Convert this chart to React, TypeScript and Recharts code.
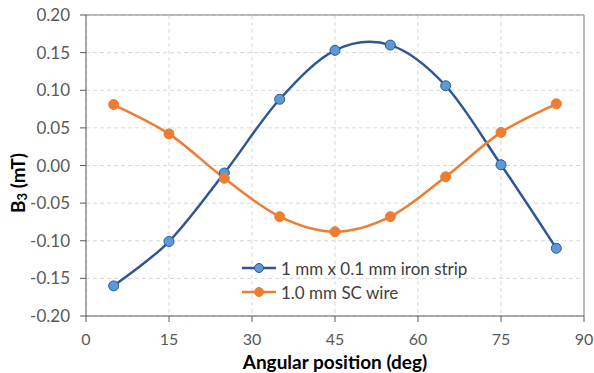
import React from "react";
import {
  CartesianGrid,
  Line,
  LineChart,
  ReferenceLine,
  XAxis,
  YAxis,
} from "recharts";

const angles = [5, 15, 25, 35, 45, 55, 65, 75, 85];
const ironStrip = [-0.16, -0.101, -0.01, 0.088, 0.153, 0.16, 0.106, 0.001, -0.11];
const scWire = [0.081, 0.042, -0.017, -0.068, -0.088, -0.068, -0.015, 0.044, 0.082];
const xTicks = [0, 15, 30, 45, 60, 75, 90];
const yTicks = [-0.2, -0.15, -0.1, -0.05, 0, 0.05, 0.1, 0.15, 0.2];
const seriesNames = ["1 mm x 0.1 mm iron strip", "1.0 mm SC wire"];

const data = angles.map((a, i) => ({ angle: a, iron: ironStrip[i], sc: scWire[i] }));

const FONT = "Lato, 'Open Sans', sans-serif";
const AXIS = "#595959";
const BLUE = "#2F5597";
const BLUE_FILL = "#5B9BD5";
const ORANGE = "#ED7D31";

// Excel-style smoothed line: cubic Bezier through every point (Catmull-Rom, 1/6 tangents).
function excelSmooth(context: any) {
  let pts: [number, number][] = [];
  return {
    areaStart() {},
    areaEnd() {},
    lineStart() {
      pts = [];
    },
    point(x: number, y: number) {
      pts.push([+x, +y]);
    },
    lineEnd() {
      if (!pts.length) return;
      context.moveTo(pts[0][0], pts[0][1]);
      for (let i = 0; i < pts.length - 1; i++) {
        const p0 = pts[i - 1] ?? pts[i];
        const p1 = pts[i];
        const p2 = pts[i + 1];
        const p3 = pts[i + 2] ?? pts[i + 1];
        context.bezierCurveTo(
          p1[0] + (p2[0] - p0[0]) / 6,
          p1[1] + (p2[1] - p0[1]) / 6,
          p2[0] - (p3[0] - p1[0]) / 6,
          p2[1] - (p3[1] - p1[1]) / 6,
          p2[0],
          p2[1]
        );
      }
    },
  };
}

const fmtY = (v: number) => v.toFixed(2);

function YTitle() {
  const cx = 17;
  const cy = 183;
  return (
    <text
      x={cx}
      y={cy}
      transform={`rotate(-90 ${cx} ${cy})`}
      textAnchor="middle"
      dominantBaseline="central"
      fontFamily={FONT}
      fontSize={19}
      fontWeight="bold"
      fill="#000"
    >
      B
      <tspan fontSize={13} dy={5}>
        3
      </tspan>
      <tspan dy={-5}> (mT)</tspan>
    </text>
  );
}

function XTitle() {
  return (
    <text
      x={335}
      y={369}
      textAnchor="middle"
      fontFamily={FONT}
      fontSize={19}
      fontWeight="bold"
      fill="#000"
    >
      Angular position (deg)
    </text>
  );
}

function LegendBox() {
  const rows = [
    { label: seriesNames[0], stroke: BLUE, fill: BLUE_FILL },
    { label: seriesNames[1], stroke: ORANGE, fill: ORANGE },
  ];
  return (
    <div
      style={{
        position: "absolute",
        left: 240,
        top: 256,
        fontFamily: FONT,
        fontSize: 17,
        color: "#404040",
      }}
    >
      {rows.map((r) => (
        <div key={r.label} style={{ display: "flex", alignItems: "center", height: 24 }}>
          <svg width={38} height={14} style={{ marginRight: 3 }}>
            <line x1={2} y1={7} x2={36} y2={7} stroke={r.stroke} strokeWidth={2.5} />
            <circle cx={19} cy={7} r={4.5} fill={r.fill} stroke={r.stroke} strokeWidth={1} />
          </svg>
          <span>{r.label}</span>
        </div>
      ))}
    </div>
  );
}

export default function App() {
  return (
    <div style={{ position: "absolute", left: 0, top: 0, width: 594, height: 373, background: "#fff" }}>
      <LineChart
        width={594}
        height={373}
        data={data}
        margin={{ top: 15, right: 10, bottom: 0, left: 0 }}
      >
        <CartesianGrid stroke="#d9d9d9" strokeDasharray="4 3" />
        <XAxis
          dataKey="angle"
          type="number"
          domain={[0, 90]}
          ticks={xTicks}
          interval={0}
          height={57}
          tickSize={6}
          tickMargin={12}
          stroke={AXIS}
          tick={{ fill: AXIS, fontSize: 16, fontFamily: FONT }}
          label={{ content: XTitle }}
        />
        <YAxis
          type="number"
          domain={[-0.2, 0.2]}
          ticks={yTicks}
          interval={0}
          width={86}
          tickSize={6}
          tickMargin={10}
          tickFormatter={fmtY}
          stroke={AXIS}
          tick={{ fill: AXIS, fontSize: 17, fontFamily: FONT }}
          label={{ content: YTitle }}
        />
        <ReferenceLine y={0.2} stroke="#7f7f7f" strokeWidth={1} />
        <ReferenceLine x={90} stroke="#a6a6a6" strokeWidth={1.5} />
        <Line
          dataKey="iron"
          name={seriesNames[0]}
          type={excelSmooth as any}
          stroke={BLUE}
          strokeWidth={2.5}
          dot={{ r: 5, fill: BLUE_FILL, stroke: BLUE, strokeWidth: 1 }}
          activeDot={false}
          isAnimationActive={false}
        />
        <Line
          dataKey="sc"
          name={seriesNames[1]}
          type={excelSmooth as any}
          stroke={ORANGE}
          strokeWidth={2.5}
          dot={{ r: 5, fill: ORANGE, stroke: ORANGE, strokeWidth: 1 }}
          activeDot={false}
          isAnimationActive={false}
        />
      </LineChart>
      <LegendBox />
    </div>
  );
}
